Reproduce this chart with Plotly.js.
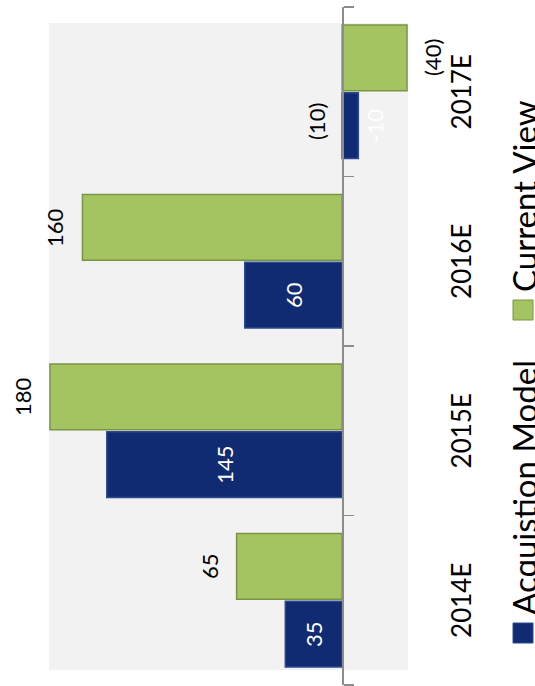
<!DOCTYPE html>
<html>
<head>
<meta charset="utf-8">
<script src="https://cdn.plot.ly/plotly-3.0.1.min.js"></script>
<style>
  html, body { margin: 0; padding: 0; background: #fff; overflow: hidden; width: 535px; height: 686px; }
  /* the chart is laid out landscape and turned a quarter turn counter-clockwise */
  #chart { position: absolute; left: 0; top: 686px; width: 686px; height: 535px;
           transform-origin: 0 0; transform: rotate(-90deg); }
</style>
</head>
<body>
<div id="chart"></div>
<script>
// Forecast by year: acquisition model vs current view
const years = ['2014E', '2015E', '2016E', '2017E'];
const seriesNames = ['Acquistion Model', 'Current View'];
const acquisitionModel = [35, 145, 60, -10];
const currentView = [65, 180, 160, -40];

const W = 686, H = 535;
const M = { l: 1, r: 7, t: 49, b: 127, pad: 0 };
const valueRange = [-40.6, 180.6];
const FONT = 'Lato, "Open Sans", sans-serif';
const BLUE = '#102b72', BLUE_EDGE = '#2c4a8e';
const GREEN = '#a4c462', GREEN_EDGE = '#7b9443';
const AXIS = '#8c8c8c';
const bargap = 0.2;

const plotW = W - M.l - M.r, plotH = H - M.t - M.b;
const px = X => (X - M.l) / plotW;          // pixel column -> paper x
const py = Y => (H - M.b - Y) / plotH;      // pixel row -> paper y
const catPx = plotW / years.length;
const barShift = catPx * (1 - bargap) / 4;  // category centre -> bar centre

// negatives shown in accounting style
const fmt = v => (v < 0 ? '(' + Math.abs(v) + ')' : String(v));

const traces = [
  {
    type: 'bar', name: seriesNames[0], x: years, y: acquisitionModel,
    marker: { color: BLUE, line: { color: BLUE_EDGE, width: 1.5 } },
    text: acquisitionModel.map(String), textposition: 'auto',
    insidetextanchor: 'middle', textangle: 0,
    insidetextfont: { family: FONT, size: 22, color: '#ffffff' },
    outsidetextfont: { family: FONT, size: 22, color: '#ffffff' },
    cliponaxis: false, hoverinfo: 'skip'
  },
  {
    type: 'bar', name: seriesNames[1], x: years, y: currentView,
    marker: { color: GREEN, line: { color: GREEN_EDGE, width: 1.5 } },
    cliponaxis: false, hoverinfo: 'skip'
  }
];

const annotations = [];
years.forEach((yr, i) => {
  const v = currentView[i];
  annotations.push({
    x: yr, y: v, xref: 'x', yref: 'y', text: fmt(v), showarrow: false,
    xshift: barShift, yanchor: v < 0 ? 'top' : 'bottom', yshift: v < 0 ? -10 : 12,
    font: { family: FONT, size: 22, color: '#000' }
  });
  const a = acquisitionModel[i];
  if (a < 0) {
    annotations.push({
      x: yr, y: 0, xref: 'x', yref: 'y', text: fmt(a), showarrow: false,
      xshift: -barShift + 4, yanchor: 'bottom', yshift: 10,
      font: { family: FONT, size: 22, color: '#000' }
    });
  }
});

// legend: swatch + name for each series, sitting on the bottom edge
const legendItems = [
  { name: seriesNames[0], color: BLUE, edge: BLUE_EDGE, x: 43 },
  { name: seriesNames[1], color: GREEN, edge: GREEN_EDGE, x: 366 }
];
const shapes = [
  { type: 'rect', xref: 'paper', yref: 'paper', x0: px(16), x1: px(663), y0: 0, y1: 1,
    fillcolor: '#f2f2f2', line: { width: 0 }, layer: 'below' }
];
legendItems.forEach(it => {
  shapes.push({ type: 'rect', xref: 'paper', yref: 'paper',
    x0: px(it.x), x1: px(it.x + 20), y0: py(513), y1: py(533),
    fillcolor: it.color, line: { color: it.edge, width: 1 } });
  annotations.push({ xref: 'paper', yref: 'paper', x: px(it.x + 26), y: py(502),
    xanchor: 'left', yanchor: 'top', text: it.name, showarrow: false,
    font: { family: FONT, size: 33, color: '#000' } });
});

const layout = {
  width: W, height: H, margin: M,
  paper_bgcolor: '#ffffff', plot_bgcolor: 'rgba(0,0,0,0)',
  barmode: 'group', bargap: bargap, bargroupgap: 0.03,
  showlegend: false,
  xaxis: {
    type: 'category', categoryorder: 'array', categoryarray: years,
    range: [-0.5, years.length - 0.5],
    anchor: 'free', position: -valueRange[0] / (valueRange[1] - valueRange[0]),
    showline: true, linecolor: AXIS, linewidth: 1.5,
    ticks: 'outside', tickson: 'boundaries', ticklen: 10, tickwidth: 1.5, tickcolor: AXIS,
    tickfont: { family: FONT, size: 26, color: '#000' },
    ticklabelstandoff: 96,
    showgrid: false, zeroline: false, fixedrange: true
  },
  yaxis: { range: valueRange, visible: false, showgrid: false, zeroline: false, fixedrange: true },
  shapes: shapes,
  annotations: annotations
};

Plotly.newPlot('chart', traces, layout, { staticPlot: true, displayModeBar: false });
</script>
</body>
</html>
